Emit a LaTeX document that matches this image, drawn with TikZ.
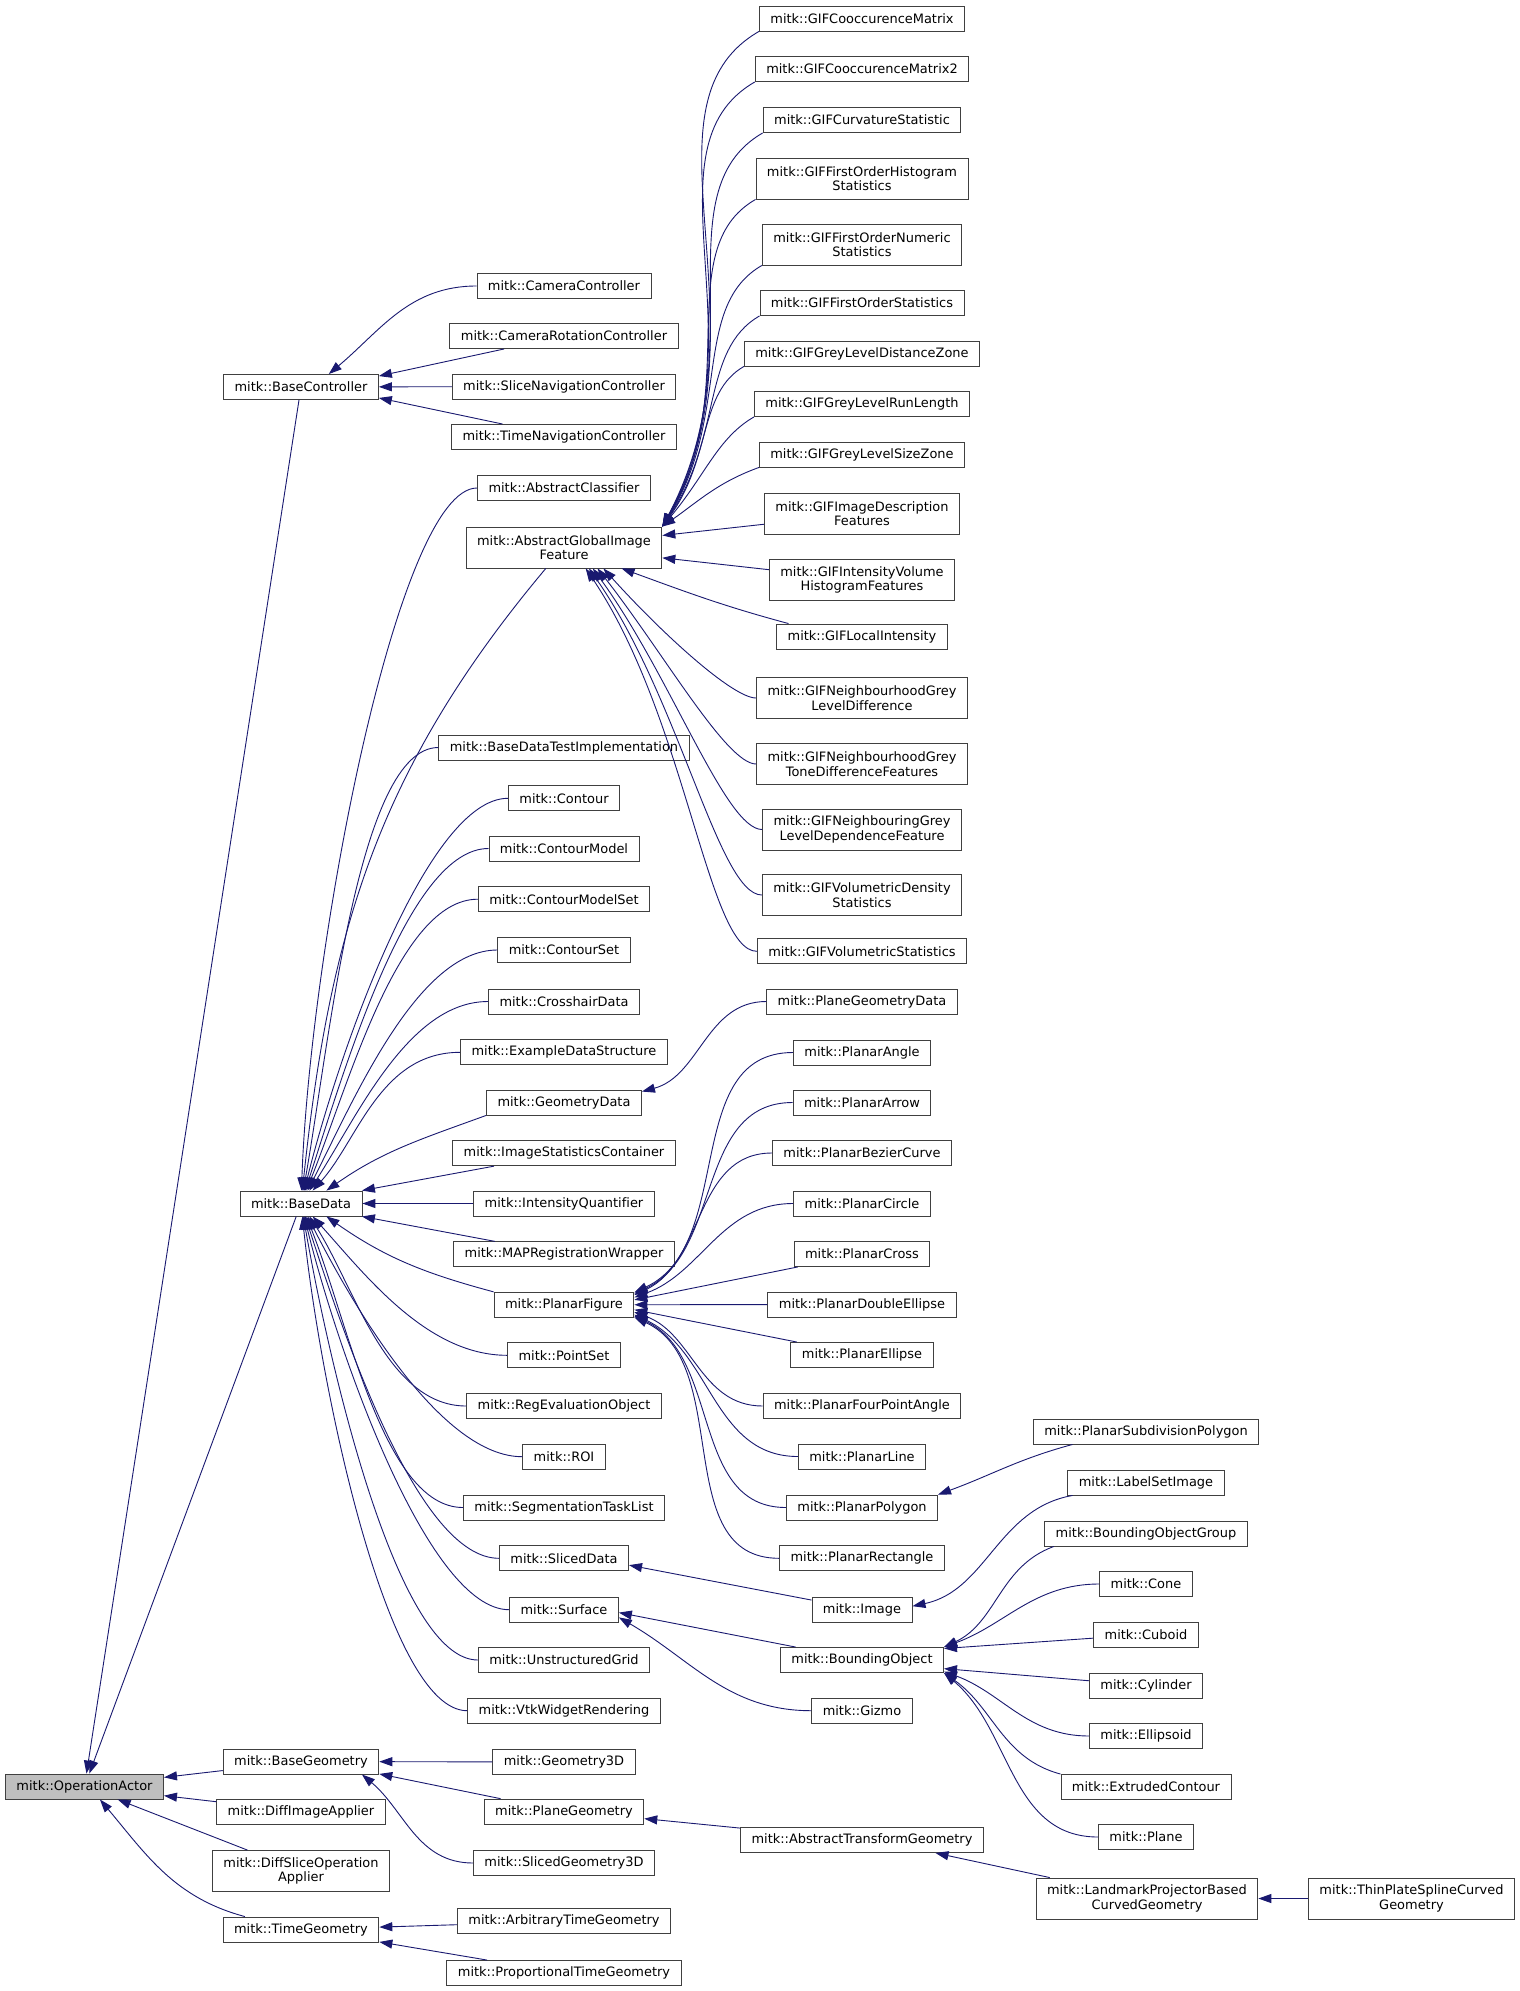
\documentclass[tikz,border=0pt]{standalone}
\usepackage{fontspec}
\setmainfont[Ligatures=CommonOff]{DejaVu Sans}
\usetikzlibrary{arrows.meta}
\definecolor{edgeblue}{HTML}{191970}
\definecolor{boxline}{HTML}{404040}
\definecolor{rootfill}{HTML}{BFBFBF}
\tikzstyle{cls-box} = [draw=boxline, fill=white, rectangle, line width=0.9pt,
    inner xsep=11pt, inner ysep=2pt, minimum height=25pt, align=center,
    font=\fontsize{12.95}{14.5}\selectfont]
\tikzstyle{cls-box2} = [cls-box, minimum height=41pt]
\tikzstyle{root-box} = [cls-box, fill=rootfill]
\tikzstyle{inh} = [draw=edgeblue, line width=0.9pt, -{Triangle[length=13pt,width=9pt]}]
\tikzstyle{fan} = [out=180, out distance=80pt, in looseness=0.85]
\tikzstyle{fan-gif} = [out=180, out looseness=0.3, in looseness=1.1]
\tikzstyle{gif-up} = [out=210, out looseness=0.75, in looseness=1.2]
\newcommand{\mitk}{mitk::}

\begin{document}
\begin{tikzpicture}[x=1pt,y=1pt]
\fill[white] (0,0) rectangle (1520,-1991);
\useasboundingbox (0,0) rectangle (1520,-1991);

% root and first level
\node[root-box] (oa) at (84.5,-1786.5) {\mitk{}OperationActor};
\node[cls-box] (bc) at (301,-387) {\mitk{}BaseController};
\node[cls-box] (bd) at (301,-1203.5) {\mitk{}BaseData};
\node[cls-box] (bg) at (301,-1761.5) {\mitk{}BaseGeometry};
\node[cls-box] (dia) at (301,-1811.5) {\mitk{}DiffImageApplier};
\node[cls-box2] (dsoa) at (301,-1871) {\mitk{}DiffSliceOperation\\Applier};
\node[cls-box] (tg) at (301,-1929.5) {\mitk{}TimeGeometry};

% second level
\node[cls-box] (camc) at (564,-286) {\mitk{}CameraController};
\node[cls-box] (camrc) at (564,-336) {\mitk{}CameraRotationController};
\node[cls-box] (snc) at (564,-386.5) {\mitk{}SliceNavigationController};
\node[cls-box] (tnc) at (564,-437) {\mitk{}TimeNavigationController};
\node[cls-box] (ac) at (564,-488) {\mitk{}AbstractClassifier};
\node[cls-box2] (agif) at (564,-547.5) {\mitk{}AbstractGlobalImage\\Feature};
\node[cls-box] (bdti) at (564,-747.5) {\mitk{}BaseDataTestImplementation};
\node[cls-box] (con) at (564,-798.3) {\mitk{}Contour};
\node[cls-box] (cm) at (564,-848.5) {\mitk{}ContourModel};
\node[cls-box] (cms) at (564,-899.2) {\mitk{}ContourModelSet};
\node[cls-box] (cs) at (564,-950) {\mitk{}ContourSet};
\node[cls-box] (chd) at (564,-1001.5) {\mitk{}CrosshairData};
\node[cls-box] (eds) at (564,-1052.3) {\mitk{}ExampleDataStructure};
\node[cls-box] (gd) at (564,-1102.5) {\mitk{}GeometryData};
\node[cls-box] (isc) at (564,-1153.2) {\mitk{}ImageStatisticsContainer};
\node[cls-box] (iq) at (564,-1203.5) {\mitk{}IntensityQuantifier};
\node[cls-box] (mrw) at (564,-1254.3) {\mitk{}MAPRegistrationWrapper};
\node[cls-box] (pf) at (564,-1304.8) {\mitk{}PlanarFigure};
\node[cls-box] (ps) at (564,-1355.3) {\mitk{}PointSet};
\node[cls-box] (reo) at (564,-1406) {\mitk{}RegEvaluationObject};
\node[cls-box] (roi) at (564,-1456.7) {\mitk{}ROI};
\node[cls-box] (stl) at (564,-1507.5) {\mitk{}SegmentationTaskList};
\node[cls-box] (sd) at (564,-1558.3) {\mitk{}SlicedData};
\node[cls-box] (surf) at (564,-1609.7) {\mitk{}Surface};
\node[cls-box] (ug) at (564,-1660) {\mitk{}UnstructuredGrid};
\node[cls-box] (vwr) at (564,-1710.7) {\mitk{}VtkWidgetRendering};
\node[cls-box] (g3d) at (564,-1762) {\mitk{}Geometry3D};
\node[cls-box] (pg) at (564,-1811.6) {\mitk{}PlaneGeometry};
\node[cls-box] (sg3d) at (564,-1863) {\mitk{}SlicedGeometry3D};
\node[cls-box] (atgeo) at (564,-1921.4) {\mitk{}ArbitraryTimeGeometry};
\node[cls-box] (ptgeo) at (564,-1973) {\mitk{}ProportionalTimeGeometry};

% third level
\node[cls-box] (gcm) at (862,-18.5) {\mitk{}GIFCooccurenceMatrix};
\node[cls-box] (gcm2) at (862,-69) {\mitk{}GIFCooccurenceMatrix2};
\node[cls-box] (gcs) at (862,-120) {\mitk{}GIFCurvatureStatistic};
\node[cls-box2] (gfoh) at (862,-178.5) {\mitk{}GIFFirstOrderHistogram\\Statistics};
\node[cls-box2] (gfon) at (862,-244.5) {\mitk{}GIFFirstOrderNumeric\\Statistics};
\node[cls-box] (gfos) at (862,-303) {\mitk{}GIFFirstOrderStatistics};
\node[cls-box] (gldz) at (862,-353.5) {\mitk{}GIFGreyLevelDistanceZone};
\node[cls-box] (glrl) at (862,-404) {\mitk{}GIFGreyLevelRunLength};
\node[cls-box] (glsz) at (862,-454.5) {\mitk{}GIFGreyLevelSizeZone};
\node[cls-box2] (gidf) at (862,-513.5) {\mitk{}GIFImageDescription\\Features};
\node[cls-box2] (givh) at (862,-580) {\mitk{}GIFIntensityVolume\\HistogramFeatures};
\node[cls-box] (gli) at (862,-636.5) {\mitk{}GIFLocalIntensity};
\node[cls-box2] (gngld) at (862,-698) {\mitk{}GIFNeighbourhoodGrey\\LevelDifference};
\node[cls-box2] (gngtd) at (862,-764) {\mitk{}GIFNeighbourhoodGrey\\ToneDifferenceFeatures};
\node[cls-box2] (gnbld) at (862,-829.5) {\mitk{}GIFNeighbouringGrey\\LevelDependenceFeature};
\node[cls-box2] (gvds) at (862,-895) {\mitk{}GIFVolumetricDensity\\Statistics};
\node[cls-box] (gvs) at (862,-951.3) {\mitk{}GIFVolumetricStatistics};
\node[cls-box] (pgd) at (862,-1001.5) {\mitk{}PlaneGeometryData};
\node[cls-box] (pang) at (862,-1052.5) {\mitk{}PlanarAngle};
\node[cls-box] (parr) at (862,-1102.5) {\mitk{}PlanarArrow};
\node[cls-box] (pbc) at (862,-1153) {\mitk{}PlanarBezierCurve};
\node[cls-box] (pcir) at (862,-1203.5) {\mitk{}PlanarCircle};
\node[cls-box] (pcro) at (862,-1254) {\mitk{}PlanarCross};
\node[cls-box] (pde) at (862,-1304.5) {\mitk{}PlanarDoubleEllipse};
\node[cls-box] (pell) at (862,-1355) {\mitk{}PlanarEllipse};
\node[cls-box] (pfpa) at (862,-1406) {\mitk{}PlanarFourPointAngle};
\node[cls-box] (plin) at (862,-1456.5) {\mitk{}PlanarLine};
\node[cls-box] (ppol) at (862,-1507.5) {\mitk{}PlanarPolygon};
\node[cls-box] (prec) at (862,-1558.3) {\mitk{}PlanarRectangle};
\node[cls-box] (img) at (862,-1609.7) {\mitk{}Image};
\node[cls-box] (bo) at (862,-1660) {\mitk{}BoundingObject};
\node[cls-box] (giz) at (862,-1710.7) {\mitk{}Gizmo};
\node[cls-box] (atf) at (862,-1840) {\mitk{}AbstractTransformGeometry};

% fourth and fifth level
\node[cls-box] (psp) at (1146,-1431.5) {\mitk{}PlanarSubdivisionPolygon};
\node[cls-box] (lsi) at (1146,-1482.5) {\mitk{}LabelSetImage};
\node[cls-box] (bog) at (1146,-1533.5) {\mitk{}BoundingObjectGroup};
\node[cls-box] (cone) at (1146,-1584) {\mitk{}Cone};
\node[cls-box] (cub) at (1146,-1634.5) {\mitk{}Cuboid};
\node[cls-box] (cyl) at (1146,-1685.5) {\mitk{}Cylinder};
\node[cls-box] (ell) at (1146,-1736) {\mitk{}Ellipsoid};
\node[cls-box] (exc) at (1146,-1787) {\mitk{}ExtrudedContour};
\node[cls-box] (pla) at (1146,-1837) {\mitk{}Plane};
\node[cls-box2] (lpg) at (1147,-1898.5) {\mitk{}LandmarkProjectorBased\\CurvedGeometry};
\node[cls-box2] (tps) at (1411.5,-1898.5) {\mitk{}ThinPlateSplineCurved\\Geometry};

% edges into BaseController and OperationActor
\draw[inh] (camc.west) to[out=180,in=40] (bc.25);
\draw[inh] (camrc) -- (bc.8);
\draw[inh] (snc) -- (bc);
\draw[inh] (tnc) -- (bc.-8);
\draw[inh] (bc) -- (oa);
\draw[inh] (bd) -- (oa);
\draw[inh] (bg) -- (oa);
\draw[inh] (dia) -- (oa);
\draw[inh] (dsoa) -- (oa);
\draw[inh] (tg.167) to[out=165,in=-50] (oa.-40);

% edges into BaseData
\draw[inh] (ac.west) to[fan,in=88] (bd.88);
\draw[inh] (agif.-131) to[out=230,in=84] (bd.84);
\draw[inh] (bdti.west) to[fan,in=80] (bd.80);
\draw[inh] (con.west) to[fan,in=76] (bd.76);
\draw[inh] (cm.west) to[fan,in=72] (bd.72);
\draw[inh] (cms.west) to[fan,in=68] (bd.68);
\draw[inh] (cs.west) to[fan,in=63] (bd.63);
\draw[inh] (chd.west) to[fan,in=57] (bd.57);
\draw[inh] (eds.west) to[fan,in=48] (bd.48);
\draw[inh] (gd.south west) to[out=200,in=35] (bd.27);
\draw[inh] (isc) -- (bd.12);
\draw[inh] (iq) -- (bd);
\draw[inh] (mrw) -- (bd.-12);
\draw[inh] (pf.north west) to[out=165,in=-35] (bd.-27);
\draw[inh] (ps.west) to[fan,in=-48] (bd.-48);
\draw[inh] (reo.west) to[fan,in=-57] (bd.-57);
\draw[inh] (roi.west) to[fan,in=-63] (bd.-63);
\draw[inh] (stl.west) to[fan,in=-68] (bd.-68);
\draw[inh] (sd.west) to[fan,in=-72] (bd.-72);
\draw[inh] (surf.west) to[fan,in=-76] (bd.-76);
\draw[inh] (ug.west) to[fan,in=-80] (bd.-80);
\draw[inh] (vwr.west) to[fan,in=-84] (bd.-84);

% edges into AbstractGlobalImageFeature
\draw[inh] (gcm.south west) to[gif-up,in=62] (agif.north east);
\draw[inh] (gcm2.south west) to[gif-up,in=61] (agif.north east);
\draw[inh] (gcs.south west) to[gif-up,in=60] (agif.north east);
\draw[inh] (gfoh.south west) to[gif-up,in=59] (agif.north east);
\draw[inh] (gfon.south west) to[gif-up,in=58] (agif.north east);
\draw[inh] (gfos.south west) to[gif-up,in=56] (agif.north east);
\draw[inh] (gldz.south west) to[gif-up,in=54] (agif.north east);
\draw[inh] (glrl.south west) to[gif-up,in=50] (agif.north east);
\draw[inh] (glsz.south west) to[out=200,in=35] (agif.north east);
\draw[inh] (gidf) -- (agif.7);
\draw[inh] (givh) -- (agif.-6);
\draw[inh] (gli.170) to[out=165,in=-20] (agif.-20);
\draw[inh] (gngld.west) to[fan-gif,in=-48] (agif.-28);
\draw[inh] (gngtd.west) to[fan-gif,in=-52] (agif.-32);
\draw[inh] (gnbld.west) to[fan-gif,in=-54] (agif.-36);
\draw[inh] (gvds.west) to[fan-gif,in=-55] (agif.-40);
\draw[inh] (gvs.west) to[fan-gif,in=-56] (agif.-44);

% edges into PlanarFigure and GeometryData
\draw[inh] (pgd.west) to[out=180,in=15] (gd.8);
\draw[inh] (pang.west) to[out=180,in=25] (pf.10);
\draw[inh] (parr.west) to[out=180,in=25] (pf.9);
\draw[inh] (pbc.west) to[out=180,in=25] (pf.8);
\draw[inh] (pcir.west) to[out=180,in=20] (pf.6);
\draw[inh] (pcro) -- (pf.4);
\draw[inh] (pde) -- (pf);
\draw[inh] (pell) -- (pf.-4);
\draw[inh] (pfpa.west) to[out=180,in=-20] (pf.-6);
\draw[inh] (plin.west) to[out=180,in=-25] (pf.-8);
\draw[inh] (ppol.west) to[out=180,in=-25] (pf.-9);
\draw[inh] (prec.west) to[out=180,in=-25] (pf.-10);
\draw[inh] (psp.-170) to[out=195,in=20] (ppol.north east);

% edges into SlicedData, Surface, BoundingObject
\draw[inh] (img) -- (sd.-6);
\draw[inh] (lsi.190) to[out=190,in=12] (img.4);
\draw[inh] (bo) -- (surf.-3);
\draw[inh] (giz.west) to[out=180,in=-30] (surf.-8);
\draw[inh] (bog.-172) to[out=200,in=25] (bo.north east);
\draw[inh] (cone.west) to[out=180,in=20] (bo.north east);
\draw[inh] (cub) -- (bo.8);
\draw[inh] (cyl) -- (bo.-6);
\draw[inh] (ell.west) to[out=180,in=-20] (bo.-8);
\draw[inh] (exc.north west) to[out=165,in=-35] (bo.south east);
\draw[inh] (pla.west) to[out=180,in=-40] (bo.south east);

% geometry edges
\draw[inh] (g3d) -- (bg);
\draw[inh] (pg) -- (bg.-9);
\draw[inh] (sg3d.west) to[out=180,in=-40] (bg.-12);
\draw[inh] (atf) -- (pg.-5);
\draw[inh] (lpg) -- (atf.-10);
\draw[inh] (tps) -- (lpg);
\draw[inh] (atgeo) -- (tg);
\draw[inh] (ptgeo) -- (tg.-9);
\end{tikzpicture}
\end{document}
